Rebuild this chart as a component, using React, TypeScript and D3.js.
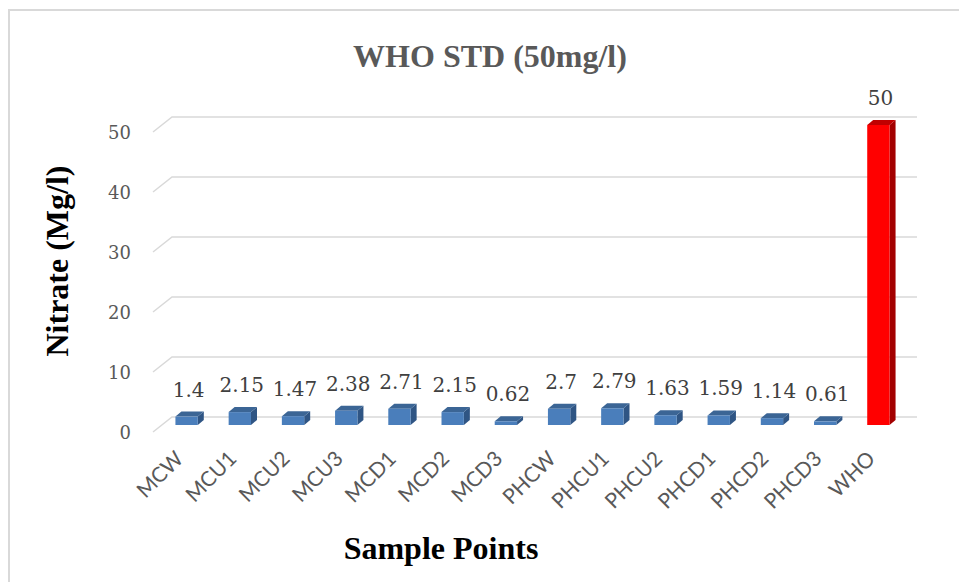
import * as d3 from 'd3'

const categories = ['MCW', 'MCU1', 'MCU2', 'MCU3', 'MCD1', 'MCD2', 'MCD3', 'PHCW', 'PHCU1', 'PHCU2', 'PHCD1', 'PHCD2', 'PHCD3', 'WHO']
const nitrate = [1.4, 2.15, 1.47, 2.38, 2.71, 2.15, 0.62, 2.7, 2.79, 1.63, 1.59, 1.14, 0.61, 50]
const yTicks = [0, 10, 20, 30, 40, 50]

const W = 959
const H = 582
// floor depth of the 3d plot
const depthX = 19
const depthY = -15
// bar sits a bit into the floor, and has its own small depth
const barOffX = 7
const barOffY = -7
const barDX = 6
const barDY = -5

const blue = { front: '#4a7ebb', top: '#3b6595', side: '#2f5584' }
const red = { front: '#ff0000', top: '#c00000', side: '#a30000' }

export default function App() {
  const x = d3.scaleBand<string>()
    .domain(categories)
    .range([153, 898])
    .paddingInner(0.58)
    .paddingOuter(0.29)

  const y = d3.scaleLinear().domain([0, 50]).range([432, 132])
  const bw = x.bandwidth()

  return (
    <div style={{ position: 'absolute', left: 0, top: 0 }}>
      <svg width={W} height={H} style={{ display: 'block', background: '#fff' }}>
        <rect x={9} y={10} width={W} height={H} fill="none" stroke="#d9d9d9" strokeWidth={2} />

        <text x={490} y={67} textAnchor="middle" fontFamily="'Liberation Serif', serif"
          fontWeight="bold" fontSize={32} fill="#595959">WHO STD (50mg/l)</text>

        {/* gridlines on the back wall with the slanted floor edge */}
        {yTicks.map(t => (
          <path key={t}
            d={`M153,${y(t)}L${153 + depthX},${y(t) + depthY}H${898 + depthX}`}
            fill="none" stroke="#d9d9d9" strokeWidth={1.5} />
        ))}

        {yTicks.map(t => (
          <text key={'l' + t} x={131} y={y(t)} textAnchor="end" dominantBaseline="central"
            fontFamily="'DejaVu Serif', serif" fontSize={18} fill="#595959">{t}</text>
        ))}

        {categories.map((c, i) => {
          const v = nitrate[i]
          const col = c === 'WHO' ? red : blue
          const x0 = (x(c) ?? 0) + barOffX
          const x1 = x0 + bw
          const yT = y(v) + barOffY
          const yB = y(0) + barOffY
          return (
            <g key={c}>
              <polygon points={`${x1},${yT} ${x1 + barDX},${yT + barDY} ${x1 + barDX},${yB + barDY} ${x1},${yB}`} fill={col.side} />
              <polygon points={`${x0},${yT} ${x0 + barDX},${yT + barDY} ${x1 + barDX},${yT + barDY} ${x1},${yT}`} fill={col.top} />
              <rect x={x0} y={yT} width={bw} height={yB - yT} fill={col.front} />
              <text x={x0 + bw / 2 + 2} y={yT - 20} textAnchor="middle"
                fontFamily="'DejaVu Serif', serif" fontSize={20} fill="#404040">{v}</text>
            </g>
          )
        })}

        {categories.map(c => {
          const cx = (x(c) ?? 0) + bw / 2 + 5
          return (
            <text key={'x' + c} x={cx} y={460} textAnchor="end"
              transform={`rotate(-45,${cx},${460})`}
              fontFamily="Lato, sans-serif" fontSize={21} fill="#595959">{c}</text>
          )
        })}

        <text x={441} y={559} textAnchor="middle" fontFamily="'Liberation Serif', serif"
          fontWeight="bold" fontSize={32} fill="#000">Sample Points</text>

        <text transform="translate(68,261) rotate(-90)" textAnchor="middle"
          fontFamily="'Liberation Serif', serif" fontWeight="bold" fontSize={32} fill="#000">Nitrate (Mg/l)</text>
      </svg>
    </div>
  )
}
